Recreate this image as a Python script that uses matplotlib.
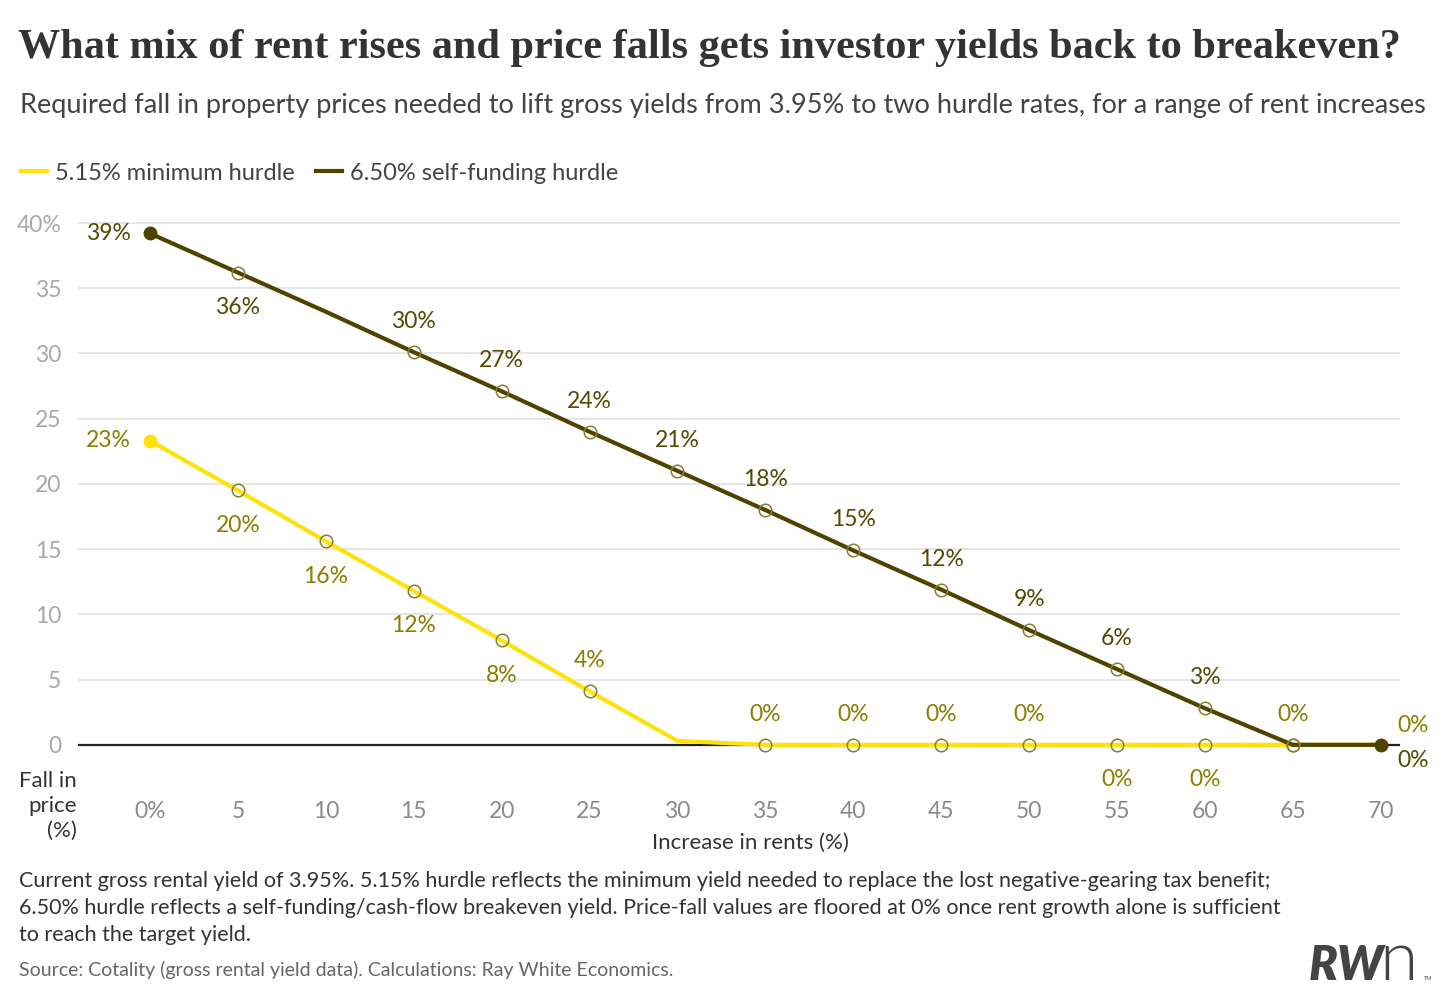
import matplotlib

matplotlib.use("Agg")
import matplotlib.pyplot as plt  # noqa: E402
from matplotlib.lines import Line2D  # noqa: E402

plt.rcParams["font.family"] = ["Lato", "DejaVu Sans"]

# data
rent_increase = [0, 5, 10, 15, 20, 25, 30, 35, 40, 45, 50, 55, 60, 65, 70]
fall_min = [23.3, 19.5, 15.6, 11.8, 8.0, 4.1, 0.3, 0, 0, 0, 0, 0, 0, 0, 0]
fall_self = [39.2, 36.2, 33.2, 30.1, 27.1, 24.0, 21.0, 18.0, 14.9, 11.9, 8.8, 5.8, 2.8, 0, 0]
labels_min = ["23%", "20%", "16%", "12%", "8%", "4%", None, "0%", "0%", "0%", "0%", "0%", "0%", "0%", "0%"]
labels_self = ["39%", "36%", None, "30%", "27%", "24%", "21%", "18%", "15%", "12%", "9%", "6%", "3%", None, "0%"]

# label placement: l = left, b = below, a = above, ra = right-above, rb = right-below
place_min = ["l", "b", "b", "b", "b", "a", None, "a", "a", "a", "a", "b", "b", "a", "ra"]
place_self = ["l", "b", None, "a", "a", "a", "a", "a", "a", "a", "a", "a", "a", None, "rb"]
hollow_min = [5, 10, 15, 20, 25, 35, 40, 45, 50, 55, 60, 65]
hollow_self = [5, 15, 20, 25, 30, 35, 40, 45, 50, 55, 60, 65]

YELLOW = "#FFE20A"
YELLOW_TXT = "#8C7C00"
DARK = "#4F4300"
DARK_TXT = "#554800"
RING = "#8C7D2E"

OFFSETS = {
    "l": (-14, 0, "right", "center"),
    "b": (0, -25, "center", "center"),
    "a": (0, 22, "center", "center"),
    "ra": (12, 14, "left", "center"),
    "rb": (12, -11, "left", "center"),
}

fig = plt.figure(figsize=(14.49, 10), dpi=100)
ax = fig.add_axes([78 / 1449, 1 - 797 / 1000, (1400 - 78) / 1449, (797 - 210) / 1000])
ax.set_xlim(-4.1, 71.1)
ax.set_ylim(-4, 41)

for y in range(5, 45, 5):
    ax.axhline(y, color="#E6E6E6", linewidth=1.4, zorder=1)
ax.axhline(0, color="#222222", linewidth=1.6, zorder=2)


def draw_series(values, hollow, labels, places, txt_color, line_color):
    ax.plot(rent_increase, values, color=line_color, linewidth=3, zorder=3, solid_capstyle="round")
    hx = [x for x in rent_increase if x in hollow]
    hy = [v for x, v in zip(rent_increase, values) if x in hollow]
    ax.plot(hx, hy, linestyle="none", marker="o", markersize=9, markerfacecolor="none",
            markeredgecolor=RING, markeredgewidth=1.1, zorder=5)
    for x, v, lab, pl in zip(rent_increase, values, labels, places):
        if lab is None:
            continue
        dx, dy, ha, va = OFFSETS[pl]
        ax.annotate(lab, (x, v), xytext=(dx, dy), textcoords="offset points", ha=ha, va=va,
                    fontsize=16.5, color=txt_color, zorder=6, annotation_clip=False)


draw_series(fall_min, hollow_min, labels_min, place_min, YELLOW_TXT, YELLOW)
draw_series(fall_self, hollow_self, labels_self, place_self, DARK_TXT, DARK)
ax.plot(rent_increase[0], fall_min[0], "o", color=YELLOW, markersize=9, zorder=6)
ax.plot(rent_increase[0], fall_self[0], "o", color=DARK, markersize=9, zorder=6)
ax.plot(rent_increase[-1], fall_self[-1], "o", color=DARK, markersize=9, zorder=6)

ax.set_xticks(rent_increase, ["0%"] + [str(x) for x in rent_increase[1:]])
ax.set_yticks(range(0, 45, 5), [str(y) for y in range(0, 40, 5)] + ["40%"])
ax.tick_params(axis="x", length=0, pad=3, labelsize=16.5, labelcolor="#8A8A8A")
ax.tick_params(axis="y", length=0, pad=12, labelsize=16.5, labelcolor="#A8A8A8")
for spine in ax.spines.values():
    spine.set_visible(False)
ax.set_facecolor("none")

fig.text(77 / 1449, 1 - 806 / 1000, "Fall in\nprice\n(%)", ha="right", va="center",
         fontsize=16, color="#333333", linespacing=1.33)
fig.text(750 / 1449, 1 - 843 / 1000, "Increase in rents (%)", ha="center", va="center",
         fontsize=16, color="#333333")

fig.text(18 / 1449, 1 - 48 / 1000,
         "What mix of rent rises and price falls gets investor yields back to breakeven?",
         ha="left", va="center", fontsize=30.4, fontweight="bold", family="Liberation Serif",
         color="#333333")
fig.text(20 / 1449, 1 - 105 / 1000,
         "Required fall in property prices needed to lift gross yields from 3.95% to two hurdle "
         "rates, for a range of rent increases",
         ha="left", va="center", fontsize=19.55, color="#444444")

legend_items = [
    Line2D([], [], color=YELLOW, linewidth=3, label="5.15% minimum hurdle"),
    Line2D([], [], color=DARK, linewidth=3, label="6.50% self-funding hurdle"),
]
fig.legend(handles=legend_items, loc="center left", bbox_to_anchor=(2 / 1449, 1 - 173 / 1000),
           ncol=2, frameon=False, fontsize=17, handlelength=1.1, handletextpad=0.35,
           columnspacing=0.9, labelcolor="#444444", borderaxespad=0.4)

note = ("Current gross rental yield of 3.95%. 5.15% hurdle reflects the minimum yield needed to "
        "replace the lost negative-gearing tax benefit;\n"
        "6.50% hurdle reflects a self-funding/cash-flow breakeven yield. Price-fall values are "
        "floored at 0% once rent growth alone is sufficient\n"
        "to reach the target yield.")
fig.text(19 / 1449, 1 - 871 / 1000, note, ha="left", va="top", fontsize=15.5, color="#333333",
         linespacing=1.43)
fig.text(19 / 1449, 1 - 970 / 1000,
         "Source: Cotality (gross rental yield data). Calculations: Ray White Economics.",
         ha="left", va="center", fontsize=14, color="#666666")

fig.text(1309 / 1449, 1 - 980 / 1000, "RW", ha="left", va="baseline", fontsize=34,
         fontweight="heavy", style="italic", color="#444444")
fig.text(1379 / 1449, 1 - 980 / 1000, "n", ha="left", va="baseline", fontsize=50,
         fontweight=300, color="#444444")
fig.text(1424 / 1449, 1 - 979 / 1000, "TM", ha="left", va="center", fontsize=4, color="#444444")

fig.savefig("out.png", dpi=100, facecolor="white")
